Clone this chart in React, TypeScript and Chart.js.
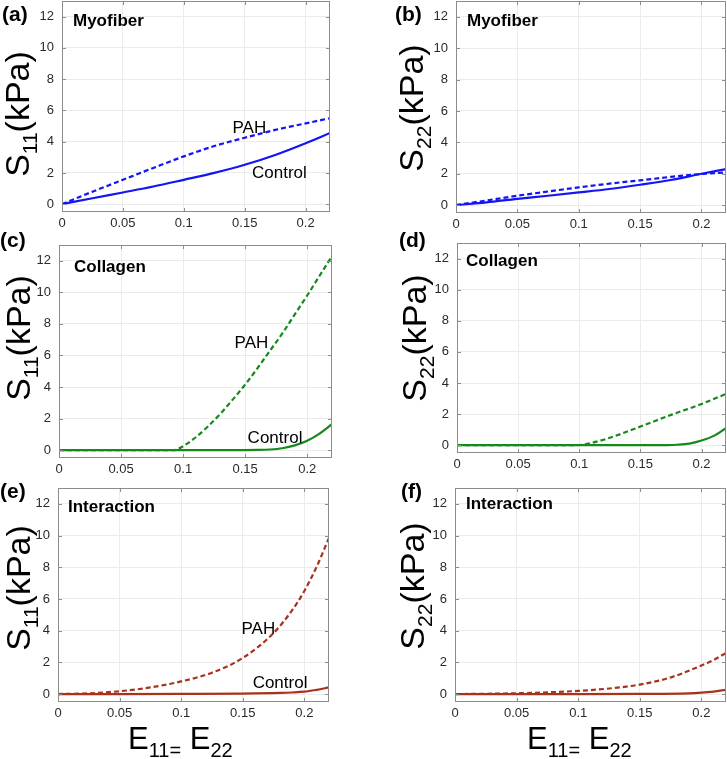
import React, { useEffect, useRef } from "react";
import { Chart, registerables } from "chart.js";
Chart.register(...registerables);

// ---------------- data ----------------
const xTickValues = [0, 0.05, 0.1, 0.15, 0.2];
const xTickLabels = ["0", "0.05", "0.1", "0.15", "0.2"];
const yTickValues = [0, 2, 4, 6, 8, 10, 12];
const yTickLabels = ["0", "2", "4", "6", "8", "10", "12"];
const X_MIN = 0;
const X_MAX = 0.22;
const Y_MIN = -0.5;
const Y_MAX = 13;

// (a) Myofiber S11
const aCtrlX = [0, 0.025, 0.05, 0.075, 0.1, 0.125, 0.15, 0.175, 0.2, 0.22];
const aCtrlY = [0, 0.38, 0.75, 1.13, 1.56, 2.0, 2.52, 3.15, 3.9, 4.56];
const aPahX = [0, 0.025, 0.05, 0.075, 0.1, 0.125, 0.15, 0.175, 0.2, 0.22];
const aPahY = [0, 0.8, 1.56, 2.32, 3.06, 3.72, 4.25, 4.75, 5.17, 5.5];

// (b) Myofiber S22
const bCtrlX = [0, 0.025, 0.05, 0.075, 0.1, 0.125, 0.15, 0.175, 0.2, 0.22];
const bCtrlY = [0, 0.18, 0.4, 0.6, 0.81, 1.03, 1.3, 1.6, 2.0, 2.3];
const bPahX = [0, 0.025, 0.05, 0.075, 0.1, 0.125, 0.15, 0.175, 0.2, 0.22];
const bPahY = [0, 0.3, 0.6, 0.87, 1.13, 1.37, 1.58, 1.8, 1.98, 2.08];

// (c) Collagen S11
const cCtrlX = [0, 0.05, 0.1, 0.15, 0.16, 0.17, 0.18, 0.19, 0.2, 0.21, 0.22];
const cCtrlY = [0, 0, 0, 0, 0.01, 0.04, 0.12, 0.3, 0.6, 1.05, 1.65];
const cPahX = [0, 0.05, 0.093, 0.1, 0.11, 0.12, 0.13, 0.14, 0.15, 0.16, 0.17, 0.18, 0.19, 0.2, 0.21, 0.22];
const cPahY = [0, 0, 0, 0.25, 0.8, 1.5, 2.3, 3.2, 4.15, 5.2, 6.3, 7.4, 8.6, 9.8, 11.05, 12.3];

// (d) Collagen S22
const dCtrlX = [0, 0.05, 0.1, 0.15, 0.17, 0.18, 0.19, 0.2, 0.21, 0.22];
const dCtrlY = [0, 0, 0, 0, 0.01, 0.03, 0.1, 0.3, 0.6, 1.1];
const dPahX = [0, 0.05, 0.097, 0.11, 0.125, 0.15, 0.175, 0.2, 0.22];
const dPahY = [0, 0, 0, 0.15, 0.48, 1.2, 1.95, 2.65, 3.3];

// (e) Interaction S11
const eCtrlX = [0, 0.05, 0.1, 0.15, 0.18, 0.19, 0.2, 0.21, 0.22];
const eCtrlY = [0, 0, 0.01, 0.03, 0.07, 0.1, 0.15, 0.27, 0.42];
const ePahX = [0, 0.025, 0.05, 0.075, 0.1, 0.125, 0.15, 0.175, 0.19, 0.2, 0.21, 0.22];
const ePahY = [0, 0.05, 0.18, 0.42, 0.8, 1.35, 2.28, 3.85, 5.28, 6.5, 8.04, 9.85];

// (f) Interaction S22
const fCtrlX = [0, 0.1, 0.15, 0.19, 0.2, 0.21, 0.22];
const fCtrlY = [0, 0, 0.01, 0.05, 0.09, 0.16, 0.27];
const fPahX = [0, 0.05, 0.1, 0.125, 0.15, 0.175, 0.2, 0.21, 0.22];
const fPahY = [0, 0.05, 0.2, 0.35, 0.6, 1.05, 1.8, 2.15, 2.6];

// ---------------- styling ----------------
const FONT = "'Liberation Sans', Arial, Helvetica, sans-serif";
const FRAME = "#8c8c8c";
const GRID = "#ebebeb";
const TICKTXT = "#2a2a2a";
const BLUE = "#1414f5";
const GREEN = "#17891a";
const BROWN = "#a8331a";

type Area = { l: number; r: number; t: number; b: number };
type PanelCfg = {
  area: Area;
  colLeft: number;
  colWidth: number;
  color: string;
  ctrlX: number[];
  ctrlY: number[];
  pahX: number[];
  pahY: number[];
  letter: string;
  letterPos: [number, number];
  sub: string;
  yLabelPos: [number, number];
  title: string;
  titlePos: [number, number];
  pahLabel?: [number, number];
  ctrlLabel?: [number, number];
  xTitlePos?: [number, number];
};

const panels: PanelCfg[] = [
  {
    area: { l: 62, r: 330, t: 1, b: 212 }, colLeft: 0, colWidth: 360, color: BLUE,
    ctrlX: aCtrlX, ctrlY: aCtrlY, pahX: aPahX, pahY: aPahY,
    letter: "(a)", letterPos: [2, 15], sub: "11", yLabelPos: [17, 114],
    title: "Myofiber", titlePos: [73, 21], pahLabel: [0.14, 4.87], ctrlLabel: [0.156, 1.95],
  },
  {
    area: { l: 456, r: 726, t: 1, b: 213 }, colLeft: 360, colWidth: 367, color: BLUE,
    ctrlX: bCtrlX, ctrlY: bCtrlY, pahX: bPahX, pahY: bPahY,
    letter: "(b)", letterPos: [395, 15], sub: "22", yLabelPos: [411, 108],
    title: "Myofiber", titlePos: [467, 21],
  },
  {
    area: { l: 59, r: 332, t: 245, b: 458 }, colLeft: 0, colWidth: 360, color: GREEN,
    ctrlX: cCtrlX, ctrlY: cCtrlY, pahX: cPahX, pahY: cPahY,
    letter: "(c)", letterPos: [0, 241], sub: "11", yLabelPos: [18, 338],
    title: "Collagen", titlePos: [74, 267], pahLabel: [0.1415, 6.74], ctrlLabel: [0.152, 0.77],
  },
  {
    area: { l: 457, r: 726, t: 243, b: 453 }, colLeft: 360, colWidth: 367, color: GREEN,
    ctrlX: dCtrlX, ctrlY: dCtrlY, pahX: dPahX, pahY: dPahY,
    letter: "(d)", letterPos: [399, 241], sub: "22", yLabelPos: [414, 338],
    title: "Collagen", titlePos: [466, 261],
  },
  {
    area: { l: 58, r: 329, t: 488, b: 702 }, colLeft: 0, colWidth: 360, color: BROWN,
    ctrlX: eCtrlX, ctrlY: eCtrlY, pahX: ePahX, pahY: ePahY,
    letter: "(e)", letterPos: [0, 492], sub: "11", yLabelPos: [18, 588],
    title: "Interaction", titlePos: [68, 507], pahLabel: [0.149, 4.07], ctrlLabel: [0.158, 0.65],
    xTitlePos: [128, 749],
  },
  {
    area: { l: 455, r: 726, t: 488, b: 702 }, colLeft: 360, colWidth: 367, color: BROWN,
    ctrlX: fCtrlX, ctrlY: fCtrlY, pahX: fPahX, pahY: fPahY,
    letter: "(f)", letterPos: [401, 492], sub: "22", yLabelPos: [412, 586],
    title: "Interaction", titlePos: [466, 504],
    xTitlePos: [527, 749],
  },
];

const TOPM = 26;
const BOTM = 60;
const YW = 40;
const XH = 20;

function toPoints(xs: number[], ys: number[]) {
  return xs.map((x, i) => ({ x, y: ys[i] }));
}

function Panel({ cfg }: { cfg: PanelCfg }) {
  const ref = useRef<HTMLCanvasElement | null>(null);
  const cLeft = cfg.colLeft;
  const cTop = cfg.area.t - TOPM;
  const w = cfg.colWidth;
  const h = cfg.area.b - cfg.area.t + TOPM + BOTM;

  useEffect(() => {
    if (!ref.current) return;
    const ox = cLeft;
    const oy = cTop;
    const decor = {
      id: "decor",
      afterDraw(chart: any) {
        const ctx: CanvasRenderingContext2D = chart.ctx;
        const a = chart.chartArea;
        const xs = chart.scales.x;
        const ys = chart.scales.y;
        ctx.save();
        // frame and inward ticks
        ctx.strokeStyle = FRAME;
        ctx.lineWidth = 1;
        ctx.beginPath();
        for (const v of xTickValues) {
          const px = Math.round(xs.getPixelForValue(v)) + 0.5;
          ctx.moveTo(px, a.bottom);
          ctx.lineTo(px, a.bottom - 4);
          ctx.moveTo(px, a.top);
          ctx.lineTo(px, a.top + 4);
        }
        for (const v of yTickValues) {
          const py = Math.round(ys.getPixelForValue(v)) + 0.5;
          ctx.moveTo(a.left, py);
          ctx.lineTo(a.left + 4, py);
          ctx.moveTo(a.right, py);
          ctx.lineTo(a.right - 4, py);
        }
        ctx.stroke();
        ctx.strokeRect(a.left + 0.5, a.top + 0.5, a.right - a.left - 1, a.bottom - a.top - 1);

        ctx.fillStyle = "#000";
        // panel letter
        ctx.font = `bold 21px ${FONT}`;
        ctx.textAlign = "left";
        ctx.textBaseline = "middle";
        ctx.fillText(cfg.letter, cfg.letterPos[0] - ox, cfg.letterPos[1] - oy);
        // subtitle
        ctx.font = `bold 17px ${FONT}`;
        ctx.fillText(cfg.title, cfg.titlePos[0] - ox, cfg.titlePos[1] - oy);
        // annotations
        ctx.font = `17px ${FONT}`;
        if (cfg.pahLabel) {
          ctx.fillText("PAH", xs.getPixelForValue(cfg.pahLabel[0]), ys.getPixelForValue(cfg.pahLabel[1]));
        }
        if (cfg.ctrlLabel) {
          ctx.fillText("Control", xs.getPixelForValue(cfg.ctrlLabel[0]), ys.getPixelForValue(cfg.ctrlLabel[1]));
        }
        // y axis label S_ij(kPa)
        {
          const big = 34;
          const small = 21;
          ctx.save();
          ctx.translate(cfg.yLabelPos[0] - ox, cfg.yLabelPos[1] - oy);
          ctx.rotate(-Math.PI / 2);
          ctx.textBaseline = "alphabetic";
          ctx.textAlign = "left";
          ctx.font = `${big}px ${FONT}`;
          const wS = ctx.measureText("S").width;
          const wR = ctx.measureText("(kPa)").width;
          ctx.font = `${small}px ${FONT}`;
          const wSub = ctx.measureText(cfg.sub).width;
          const total = wS + wSub + wR;
          let x = -total / 2;
          const base = big * 0.36;
          ctx.font = `${big}px ${FONT}`;
          ctx.fillText("S", x, base);
          x += wS;
          ctx.font = `${small}px ${FONT}`;
          ctx.fillText(cfg.sub, x, base + 8);
          x += wSub;
          ctx.font = `${big}px ${FONT}`;
          ctx.fillText("(kPa)", x, base);
          ctx.restore();
        }
        // x axis title E11= E22
        if (cfg.xTitlePos) {
          const big = 31;
          const small = 20;
          let x = cfg.xTitlePos[0] - ox;
          const base = cfg.xTitlePos[1] - oy;
          ctx.textBaseline = "alphabetic";
          ctx.textAlign = "left";
          const parts: [string, number, number][] = [
            ["E", big, 0],
            ["11=", small, 8],
            [" ", big, 0],
            ["E", big, 0],
            ["22", small, 8],
          ];
          for (const [t, size, dy] of parts) {
            ctx.font = `${size}px ${FONT}`;
            ctx.fillText(t, x, base + dy);
            x += ctx.measureText(t).width;
          }
        }
        ctx.restore();
      },
    };

    const chart = new Chart(ref.current, {
      type: "line",
      data: {
        datasets: [
          {
            label: "Control",
            data: toPoints(cfg.ctrlX, cfg.ctrlY),
            borderColor: cfg.color,
            borderWidth: 2.2,
            pointRadius: 0,
            cubicInterpolationMode: "monotone",
            fill: false,
          },
          {
            label: "PAH",
            data: toPoints(cfg.pahX, cfg.pahY),
            borderColor: cfg.color,
            borderWidth: 2.2,
            borderDash: [5, 3],
            pointRadius: 0,
            cubicInterpolationMode: "monotone",
            fill: false,
          },
        ],
      },
      options: {
        responsive: false,
        animation: false,
        devicePixelRatio: 1,
        layout: {
          padding: {
            left: cfg.area.l - cfg.colLeft - YW,
            right: cfg.colLeft + cfg.colWidth - cfg.area.r,
            top: TOPM,
            bottom: BOTM - XH,
          },
        },
        plugins: {
          legend: { display: false },
          tooltip: { enabled: false },
        },
        scales: {
          x: {
            type: "linear",
            min: X_MIN,
            max: X_MAX,
            afterBuildTicks: (axis: any) => {
              axis.ticks = xTickValues.map((v) => ({ value: v }));
            },
            afterFit: (s: any) => {
              s.height = XH;
            },
            grid: { color: GRID, lineWidth: 1, drawTicks: false },
            border: { display: false },
            ticks: {
              maxRotation: 0,
              autoSkip: false,
              padding: 4,
              color: TICKTXT,
              font: { family: FONT, size: 13 },
              callback: (v: any) => {
                const i = xTickValues.indexOf(Number(v));
                return i >= 0 ? xTickLabels[i] : "";
              },
            },
          },
          y: {
            type: "linear",
            min: Y_MIN,
            max: Y_MAX,
            afterBuildTicks: (axis: any) => {
              axis.ticks = yTickValues.map((v) => ({ value: v }));
            },
            afterFit: (s: any) => {
              s.width = YW;
            },
            grid: { color: GRID, lineWidth: 1, drawTicks: false },
            border: { display: false },
            ticks: {
              autoSkip: false,
              padding: 8,
              color: TICKTXT,
              font: { family: FONT, size: 13 },
              callback: (v: any) => {
                const i = yTickValues.indexOf(Number(v));
                return i >= 0 ? yTickLabels[i] : "";
              },
            },
          },
        },
      },
      plugins: [decor],
    } as any);
    return () => chart.destroy();
  }, [cfg]);

  return (
    <canvas
      ref={ref}
      width={w}
      height={h}
      style={{ position: "absolute", left: cLeft, top: cTop, width: w, height: h }}
    />
  );
}

export default function App() {
  return (
    <div
      style={{
        position: "absolute",
        left: 0,
        top: 0,
        width: 727,
        height: 759,
        overflow: "hidden",
        background: "#fff",
      }}
    >
      {panels.map((p, i) => (
        <Panel key={i} cfg={p} />
      ))}
    </div>
  );
}
